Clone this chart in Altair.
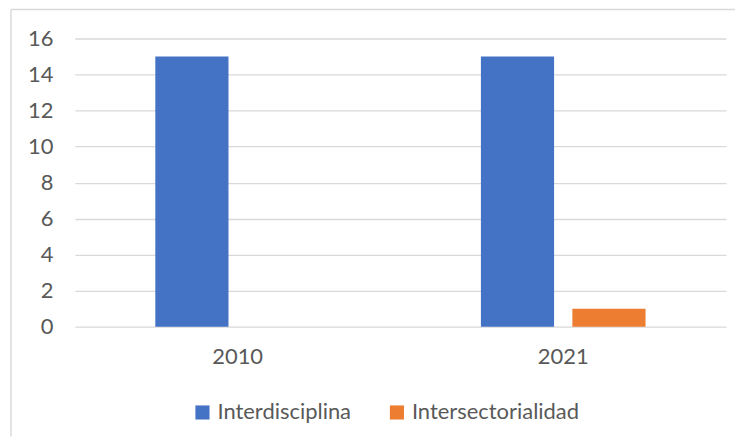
import altair as alt
import pandas as pd

years = ["2010", "2021"]
series = ["Interdisciplina", "Intersectorialidad"]
interdisciplina = [15, 15]
intersectorialidad = [0, 1]
colors = ["#4472C4", "#ED7D31"]
y_ticks = [0, 2, 4, 6, 8, 10, 12, 14, 16]

rows = []
for i, yr in enumerate(years):
    rows.append({"year": yr, "series": series[0], "value": interdisciplina[i]})
    rows.append({"year": yr, "series": series[1], "value": intersectorialidad[i]})
df = pd.DataFrame(rows)

FONT = "Lato"
TXT = "#595959"
GRID = "#d9d9d9"

bars = alt.Chart(df).mark_bar().encode(
    x=alt.X("year:N", sort=years, title=None,
            scale=alt.Scale(paddingInner=0, paddingOuter=0),
            axis=alt.Axis(labelAngle=0, ticks=False, domain=False, grid=False,
                          labelPadding=20, labelFontSize=22, labelColor=TXT, labelFont=FONT)),
    xOffset=alt.XOffset("series:N", sort=series,
                        scale=alt.Scale(paddingInner=0.2, paddingOuter=0.88)),
    y=alt.Y("value:Q", title=None,
            scale=alt.Scale(domain=[0, 16], nice=False),
            axis=alt.Axis(values=y_ticks, ticks=False, domain=False, grid=True,
                          gridColor=GRID, gridWidth=1.3,
                          labelPadding=22, labelFontSize=22, labelColor=TXT, labelFont=FONT)),
    color=alt.Color("series:N", sort=series,
                    scale=alt.Scale(domain=series, range=colors),
                    legend=alt.Legend(orient="none", legendX=117, legendY=364,
                                      direction="horizontal", title=None,
                                      symbolType="square", symbolSize=200,
                                      symbolStrokeWidth=0, labelOffset=4,
                                      columnPadding=34, labelFontSize=22,
                                      labelLimit=400,
                                      labelColor=TXT, labelFont=FONT)),
)

frame_df = pd.DataFrame({"k": [0]})
frame_left = alt.Chart(frame_df).mark_rule(color=GRID, strokeWidth=1.5).encode(
    x=alt.value(-64), y=alt.value(-29), y2=alt.value(399)
)
frame_top = alt.Chart(frame_df).mark_rule(color=GRID, strokeWidth=1.5).encode(
    x=alt.value(-64), x2=alt.value(662), y=alt.value(-29)
)

chart = alt.layer(bars, frame_left, frame_top).properties(
    width=653, height=289,
    padding={"left": 2, "top": 0, "right": 0, "bottom": 0},
).configure(font=FONT).configure_view(stroke=None, strokeWidth=0)

chart.save("out.html", embed_options={"renderer": "svg", "actions": False})
